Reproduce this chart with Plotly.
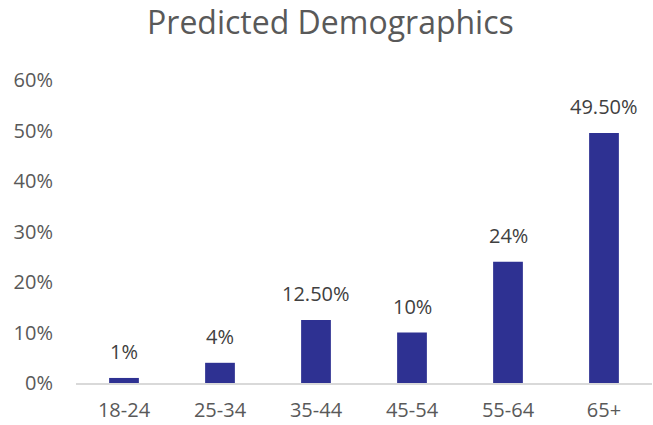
import plotly.graph_objects as go

age_groups = ["18-24", "25-34", "35-44", "45-54", "55-64", "65+"]
shares = [0.01, 0.04, 0.125, 0.10, 0.24, 0.495]
share_labels = ["1%", "4%", "12.50%", "10%", "24%", "49.50%"]
y_ticks = [0, 0.1, 0.2, 0.3, 0.4, 0.5, 0.6]
y_tick_labels = ["0%", "10%", "20%", "30%", "40%", "50%", "60%"]

fig = go.Figure(
    go.Bar(
        x=age_groups,
        y=shares,
        marker=dict(color="#2E3192", line=dict(width=0)),
        hoverinfo="x+y",
    )
)

# value labels sitting above each bar
for group, value, label in zip(age_groups, shares, share_labels):
    fig.add_annotation(
        x=group,
        y=value,
        text=label,
        showarrow=False,
        xanchor="center",
        yanchor="bottom",
        yshift=11,
        font=dict(size=20, color="#404040"),
    )

fig.update_layout(
    width=653,
    height=425,
    margin=dict(l=76, r=1, t=80, b=42),
    paper_bgcolor="white",
    plot_bgcolor="white",
    font=dict(family="Open Sans, Segoe UI, sans-serif", color="#595959"),
    title=dict(
        text="Predicted Demographics",
        x=0.506,
        xanchor="center",
        y=0.946,
        yanchor="middle",
        font=dict(size=32, color="#595959"),
    ),
    bargap=0.69,
    showlegend=False,
)

fig.update_xaxes(
    showgrid=False,
    showline=True,
    linecolor="#D9D9D9",
    linewidth=2,
    ticks="",
    tickfont=dict(size=20, color="#595959"),
    ticklabelstandoff=8,
)

fig.update_yaxes(
    range=[0, 0.6],
    tickvals=y_ticks,
    ticktext=y_tick_labels,
    showgrid=False,
    zeroline=False,
    showline=False,
    ticks="",
    tickfont=dict(size=20, color="#595959"),
    ticklabelstandoff=22,
)

fig.write_html("out.html")
